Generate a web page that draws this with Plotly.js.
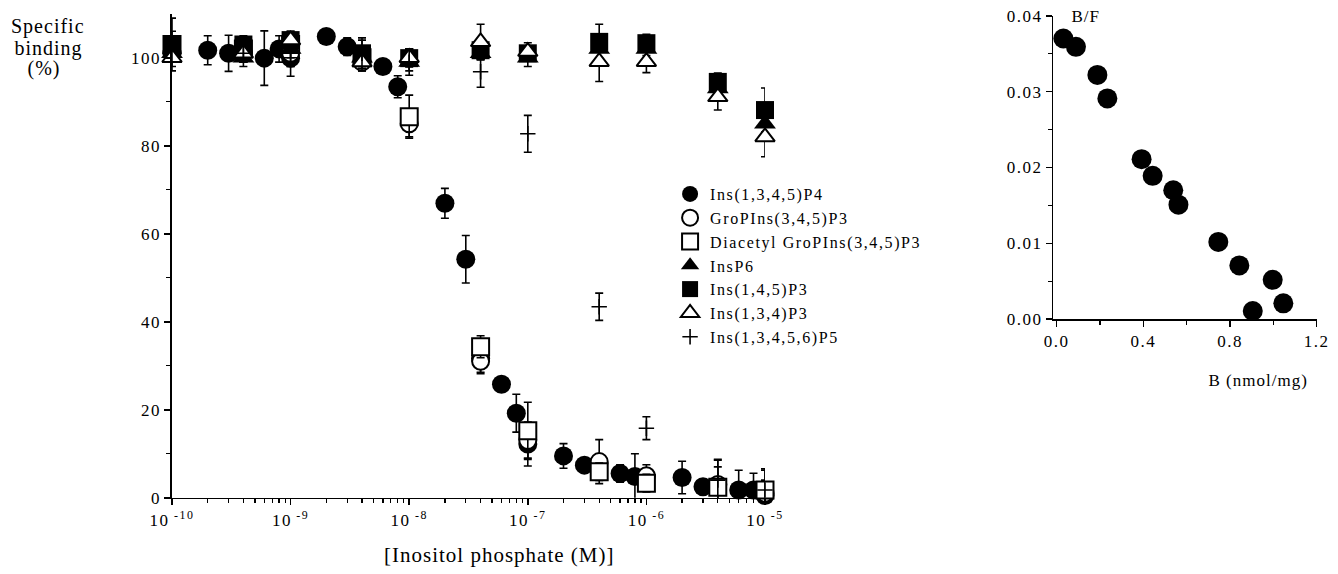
<!DOCTYPE html>
<html>
<head>
<meta charset="utf-8">
<script src="https://cdn.plot.ly/plotly-3.0.1.min.js"></script>
<style>
html,body{margin:0;padding:0;background:#fff;}
#chart{width:1338px;height:574px;}
#chart text{letter-spacing:1px;}
#chart .xtick text, #chart .ytick text, #chart .x2tick text, #chart .y2tick text{letter-spacing:1.5px;}
#chart g.legend text{letter-spacing:1.6px;}
#chart g.legend g.scrollbox{clip-path:none !important;}
</style>
</head>
<body>
<div id="chart"></div>
<script>
// ---- Data ----
var p4X = [1e-10, 2e-10, 3e-10, 6e-10, 8e-10, 1e-9, 2e-9, 3e-9, 6e-9, 8e-9, 2e-8, 3e-8, 4e-8, 6e-8, 8e-8, 1e-7, 2e-7, 3e-7, 6e-7, 8e-7, 2e-6, 3e-6, 6e-6, 8e-6, 1e-5];
var p4Y = [101, 101.7, 101.0, 99.9, 102, 99.9, 104.8, 102.5, 98.0, 93.4, 66.9, 54.2, 31.7, 25.8, 19.2, 12.2, 9.5, 7.4, 5.5, 4.8, 4.6, 2.5, 1.75, 1.75, 0.5];
var p4E = [2, 3.3, 4.1, 6.2, 3, 4.1, 1.5, 2, 1.5, 2.5, 3.4, 5.4, 3.5, 1.5, 4.3, 5, 2.8, 1.5, 2, 5.2, 3.7, 1.5, 4.5, 3.8, 1.5];

var concX = [1e-10, 4e-10, 1e-9, 4e-9, 1e-8, 4e-8, 1e-7, 4e-7, 1e-6, 4e-6, 1e-5];
var groY  = [101, 101, 101, 99, 85, 31, 13, 8.2, 5, 3, 1];
var groE  = [2, 2, 3, 2, 3, 2.5, 4, 5, 2.5, 4, 3];
var diaY  = [103, 102, 103, 100, 86.6, 34.3, 15.2, 5.9, 3.3, 2.4, 1.75];
var diaE  = [2, 2, 2, 1.5, 4.9, 2.5, 6.5, 2, 2, 6.3, 4.5];
var ip6Y  = [101, 100, 102, 100, 99, 101, 100, 102, 102, 93, 85];
var ip6E  = [2, 2, 2, 2, 2, 1.5, 2, 2, 1.5, 2, 3];
var i145Y = [103, 103, 104, 101, 99.9, 101.7, 101, 103.6, 103.3, 94.5, 88.1];
var i145E = [3, 2, 2, 3, 2, 2, 1.5, 4, 2, 2, 5];
var i134Y = [100, 101, 104, 99, 100, 103.6, 101.4, 99.1, 99.1, 91.1, 82];
var i134E = [2, 2, 2, 2, 2, 4, 2, 4.5, 2.5, 3, 4.5];
var p5Y   = [103, 101, 100, 101, 99, 96.8, 82.7, 43.4, 15.8, 4, 1.75];
var p5E   = [6, 2, 2, 3.5, 3, 3.5, 4.2, 3.1, 2.6, 4.5, 4.8];

var seriesNames = ["Ins(1,3,4,5)P4", "GroPIns(3,4,5)P3", "Diacetyl GroPIns(3,4,5)P3", "InsP6", "Ins(1,4,5)P3", "Ins(1,3,4)P3", "Ins(1,3,4,5,6)P5"];

// Scatchard inset
var bX  = [0.031, 0.089, 0.188, 0.234, 0.392, 0.443, 0.538, 0.562, 0.746, 0.843, 0.997, 0.905, 1.046];
var bfY = [0.0370, 0.0359, 0.0322, 0.0291, 0.0211, 0.0189, 0.0170, 0.0151, 0.0102, 0.0071, 0.0052, 0.0011, 0.0021];

var xTickVals = [1e-10, 1e-9, 1e-8, 1e-7, 1e-6, 1e-5];
var xTickText = ["10<sup> -10</sup>", "10<sup> -9</sup>", "10<sup> -8</sup>", "10<sup> -7</sup>", "10<sup> -6</sup>", "10<sup> -5</sup>"];

// ---- Build ----
var FONT = "Liberation Serif, Times New Roman, serif";
var minorX = [];
for (var d = -10; d < -5; d++) { for (var m = 2; m <= 9; m++) { minorX.push(m * Math.pow(10, d)); } }

function err(arr) { return {type: 'data', array: arr, visible: true, color: 'black', thickness: 1.6, width: 4}; }

var traces = [
  {x: p4X, y: p4Y, error_y: err(p4E), name: seriesNames[0], mode: 'markers', type: 'scatter', cliponaxis: false,
   marker: {symbol: 'circle', size: 19, color: 'black', line: {color: 'black', width: 0}}},
  {x: concX, y: groY, error_y: err(groE), name: seriesNames[1], mode: 'markers', type: 'scatter', cliponaxis: false,
   marker: {symbol: 'circle', size: 17, color: 'white', line: {color: 'black', width: 2}}},
  {x: concX, y: diaY, error_y: err(diaE), name: seriesNames[2], mode: 'markers', type: 'scatter', cliponaxis: false,
   marker: {symbol: 'square', size: 17, color: 'white', line: {color: 'black', width: 2}}},
  {x: concX, y: ip6Y, error_y: err(ip6E), name: seriesNames[3], mode: 'markers', type: 'scatter', cliponaxis: false,
   marker: {symbol: 'triangle-up', size: 19, color: 'black', line: {color: 'black', width: 0}}},
  {x: concX, y: i145Y, error_y: err(i145E), name: seriesNames[4], mode: 'markers', type: 'scatter', cliponaxis: false,
   marker: {symbol: 'square', size: 18, color: 'black', line: {color: 'black', width: 0}}},
  {x: concX, y: i134Y, error_y: err(i134E), name: seriesNames[5], mode: 'markers', type: 'scatter', cliponaxis: false,
   marker: {symbol: 'triangle-up', size: 17, color: 'white', line: {color: 'black', width: 2}}},
  {x: concX, y: p5Y, error_y: err(p5E), name: seriesNames[6], mode: 'markers', type: 'scatter', cliponaxis: false,
   marker: {symbol: 'cross-thin', size: 11, color: 'black', line: {color: 'black', width: 1.6}}},
  {x: bX, y: bfY, xaxis: 'x2', yaxis: 'y2', mode: 'markers', type: 'scatter', showlegend: false, cliponaxis: false,
   marker: {symbol: 'circle', size: 20, color: 'black'}}
];

var layout = {
  width: 1338, height: 574,
  margin: {l: 0, r: 0, t: 0, b: 0},
  paper_bgcolor: 'white', plot_bgcolor: 'white',
  font: {family: FONT, color: 'black', size: 16},
  showlegend: true,
  legend: {x: 0.5008, y: (574-177)/574, xanchor: 'left', yanchor: 'top', bgcolor: 'rgba(0,0,0,0)',
           font: {family: FONT, size: 16, color: 'black'}, tracegroupgap: 0, itemclick: false},
  xaxis: {
    type: 'log', domain: [172/1338, 765/1338], range: [-10, -5], anchor: 'y',
    showgrid: false, zeroline: false, showline: true, linecolor: 'black', linewidth: 1.6,
    ticks: 'outside', ticklen: 6, tickwidth: 1.6, tickcolor: 'black',
    tickmode: 'array', tickvals: xTickVals, ticktext: xTickText,
    tickfont: {family: FONT, size: 17},
    minor: {tickmode: 'array', tickvals: minorX, ticks: 'outside', ticklen: 4, tickwidth: 1.3, tickcolor: 'black'}
  },
  yaxis: {
    domain: [76.3/574, 560.3/574], range: [0, 110], anchor: 'x',
    showgrid: false, zeroline: false, showline: true, linecolor: 'black', linewidth: 1.6,
    ticks: 'outside', ticklen: 6, tickwidth: 1.6, tickcolor: 'black',
    tickmode: 'array', tickvals: [0, 20, 40, 60, 80, 100],
    tickfont: {family: FONT, size: 17},
    minor: {tickmode: 'array', tickvals: [10, 30, 50, 70, 90], ticks: 'outside', ticklen: 4, tickwidth: 1.3, tickcolor: 'black'}
  },
  xaxis2: {
    domain: [1053.4/1338, 1316.7/1338], range: [-0.015, 1.2], anchor: 'y2',
    showgrid: false, zeroline: false, showline: true, linecolor: 'black', linewidth: 1.6,
    ticks: 'outside', ticklen: 6, tickwidth: 1.6, tickcolor: 'black',
    tickmode: 'array', tickvals: [0, 0.4, 0.8, 1.2], ticktext: ['0.0', '0.4', '0.8', '1.2'],
    tickfont: {family: FONT, size: 17},
    minor: {tickmode: 'array', tickvals: [0.2, 0.6, 1.0], ticks: 'outside', ticklen: 4, tickwidth: 1.3, tickcolor: 'black'}
  },
  yaxis2: {
    domain: [(574-319.3)/574, (574-15.7)/574], range: [0, 0.04], anchor: 'x2',
    showgrid: false, zeroline: false, showline: true, linecolor: 'black', linewidth: 1.6,
    ticks: 'outside', ticklen: 6, tickwidth: 1.6, tickcolor: 'black',
    tickmode: 'array', tickvals: [0, 0.01, 0.02, 0.03, 0.04], ticktext: ['0.00', '0.01', '0.02', '0.03', '0.04'],
    tickfont: {family: FONT, size: 17},
    minor: {tickmode: 'array', tickvals: [0.005, 0.015, 0.025, 0.035], ticks: 'outside', ticklen: 4, tickwidth: 1.3, tickcolor: 'black'}
  },
  annotations: [
    {text: 'Specific', xref: 'paper', yref: 'paper', x: 48/1338, y: (574-27)/574,
     xanchor: 'center', yanchor: 'middle', showarrow: false, font: {family: FONT, size: 20}},
    {text: 'binding', xref: 'paper', yref: 'paper', x: 48/1338, y: (574-49)/574,
     xanchor: 'center', yanchor: 'middle', showarrow: false, font: {family: FONT, size: 20}},
    {text: '(%)', xref: 'paper', yref: 'paper', x: 44/1338, y: (574-68)/574,
     xanchor: 'center', yanchor: 'middle', showarrow: false, font: {family: FONT, size: 20}},
    {text: '[Inositol phosphate (M)]', xref: 'paper', yref: 'paper', x: 499/1338, y: (574-555)/574,
     xanchor: 'center', yanchor: 'middle', showarrow: false, font: {family: FONT, size: 21}},
    {text: 'B/F', xref: 'paper', yref: 'paper', x: 1071/1338, y: (574-17)/574,
     xanchor: 'left', yanchor: 'middle', showarrow: false, font: {family: FONT, size: 17}},
    {text: 'B (nmol/mg)', xref: 'paper', yref: 'paper', x: 1258/1338, y: (574-380)/574,
     xanchor: 'center', yanchor: 'middle', showarrow: false, font: {family: FONT, size: 17}}
  ]
};

Plotly.newPlot('chart', traces, layout, {displayModeBar: false, staticPlot: true});
</script>
</body>
</html>
